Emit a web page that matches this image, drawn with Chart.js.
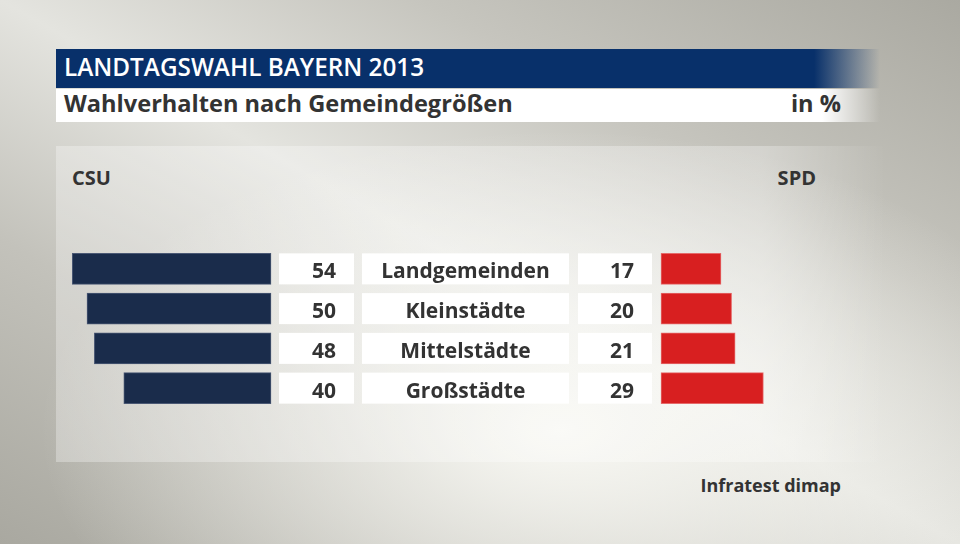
<!DOCTYPE html>
<html lang="de">
<head>
<meta charset="utf-8">
<title>Landtagswahl Bayern 2013</title>
<script src="https://cdn.jsdelivr.net/npm/chart.js@4.4.1/dist/chart.umd.min.js"></script>
<style>
    html, body {
        margin: 0;
        padding: 0;
    }
    body {
        width: 960px;
        height: 544px;
        overflow: hidden;
        position: relative;
        font-family: "Open Sans", sans-serif;
        color: #333;
        background:
            radial-gradient(ellipse 520px 300px at 560px 430px, rgba(248, 248, 243, 1) 0%, rgba(248, 248, 243, 0) 100%),
            linear-gradient(to top right, #a9a8a0 0%, #c3c2bb 28%, #e4e4df 50%, #c6c5be 72%, #aaa9a1 100%);
    }
    .panel {
        position: absolute;
        left: 56px;
        top: 146px;
        width: 830px;
        height: 316px;
        background: linear-gradient(to right, rgba(255, 255, 255, 0.3) 0%, rgba(255, 255, 255, 0.3) 85%, rgba(255, 255, 255, 0) 100%);
    }
    .title-bar {
        position: absolute;
        left: 56px;
        top: 49px;
        width: 824px;
        height: 39px;
        background: linear-gradient(to right, #08306a 0%, #08306a 92%, rgba(8, 48, 106, 0) 100%);
    }
    .sub-bar {
        position: absolute;
        left: 56px;
        top: 89px;
        width: 824px;
        height: 33px;
        background: linear-gradient(to right, #fff 0%, #fff 93%, rgba(255, 255, 255, 0) 100%);
    }
    .txt {
        position: absolute;
        line-height: 1;
        font-weight: 700;
        white-space: nowrap;
    }
    #chart {
        position: absolute;
        left: 0;
        top: 0;
    }
</style>
</head>
<body>
<div class="panel"></div>
<div class="title-bar"></div>
<div class="sub-bar"></div>
<div class="txt" style="left:64px; top:55px; font-size:24.3px; font-weight:600; color:#fff;">LANDTAGSWAHL BAYERN 2013</div>
<div class="txt" style="left:64px; top:92px; font-size:23.6px;">Wahlverhalten nach Gemeindegrößen</div>
<div class="txt" style="right:119px; top:92px; font-size:23.6px;">in %</div>
<div class="txt" style="left:72px; top:168px; font-size:20px;">CSU</div>
<div class="txt" style="right:144px; top:168px; font-size:20px;">SPD</div>
<div class="txt" style="right:119px; top:476px; font-size:18px;">Infratest dimap</div>
<canvas id="chart" width="960" height="544"></canvas>

<script>
// Data
const categories = ['Landgemeinden', 'Kleinstädte', 'Mittelstädte', 'Großstädte'];
const csuValues = [54, 50, 48, 40];
const spdValues = [17, 20, 21, 29];

// Layout (pixels)
const csuZero = 271;      // where CSU bars start (they grow to the left)
const spdZero = 661;      // where SPD bars start
const csuPxPerUnit = 3.68;
const spdPxPerUnit = 3.53;
const barHeight = 31;

// White boxes next to the bars
const boxes = {
    csuValue: { left: 279, right: 354 },
    label: { left: 362, right: 569 },
    spdValue: { left: 578, right: 652 }
};

const fontFamily = '"Open Sans", sans-serif';

// Draw the white boxes with numbers and category names
const rowBoxesPlugin = {
    id: 'rowBoxes',
    afterDatasetsDraw(chart) {
        const ctx = chart.ctx;
        const yScale = chart.scales.y;
        ctx.save();
        categories.forEach((name, i) => {
            const y = yScale.getPixelForValue(i);
            const top = y - barHeight / 2;

            ctx.fillStyle = '#ffffff';
            Object.values(boxes).forEach(b => {
                ctx.fillRect(b.left, top, b.right - b.left, barHeight);
            });

            ctx.fillStyle = '#333333';
            ctx.font = '700 21px ' + fontFamily;
            ctx.textBaseline = 'alphabetic';

            ctx.textAlign = 'right';
            ctx.fillText(String(csuValues[i]), boxes.csuValue.right - 18, y + 9.5);
            ctx.fillText(String(spdValues[i]), boxes.spdValue.right - 18, y + 9.5);

            ctx.textAlign = 'center';
            ctx.fillText(name, (boxes.label.left + boxes.label.right) / 2, y + 9.5);
        });
        ctx.restore();
    }
};

function initializeChart() {
    const ctx = document.getElementById('chart').getContext('2d');
    const width = 960;

    new Chart(ctx, {
        type: 'bar',
        data: {
            labels: categories,
            datasets: [
                {
                    label: 'CSU',
                    data: csuValues,
                    xAxisID: 'xCsu',
                    backgroundColor: '#1a2c4b',
                    borderColor: '#4a5874',
                    borderWidth: 1,
                    borderSkipped: false
                },
                {
                    label: 'SPD',
                    data: spdValues,
                    xAxisID: 'xSpd',
                    backgroundColor: '#d81f20',
                    borderColor: '#e56a6a',
                    borderWidth: 1,
                    borderSkipped: false
                }
            ]
        },
        options: {
            responsive: false,
            animation: false,
            devicePixelRatio: 1,
            indexAxis: 'y',
            layout: {
                padding: { left: 0, right: 0, top: 249, bottom: 136 }
            },
            datasets: {
                bar: {
                    grouped: false,
                    barThickness: barHeight
                }
            },
            scales: {
                y: {
                    type: 'category',
                    display: false,
                    offset: true
                },
                xCsu: {
                    type: 'linear',
                    display: false,
                    reverse: true,
                    min: -(width - csuZero) / csuPxPerUnit,
                    max: csuZero / csuPxPerUnit
                },
                xSpd: {
                    type: 'linear',
                    display: false,
                    min: -spdZero / spdPxPerUnit,
                    max: (width - spdZero) / spdPxPerUnit
                }
            },
            plugins: {
                legend: { display: false },
                tooltip: { enabled: false }
            }
        },
        plugins: [rowBoxesPlugin]
    });
}

document.fonts.load('700 21px "Open Sans"').then(initializeChart, initializeChart);
</script>
</body>
</html>
